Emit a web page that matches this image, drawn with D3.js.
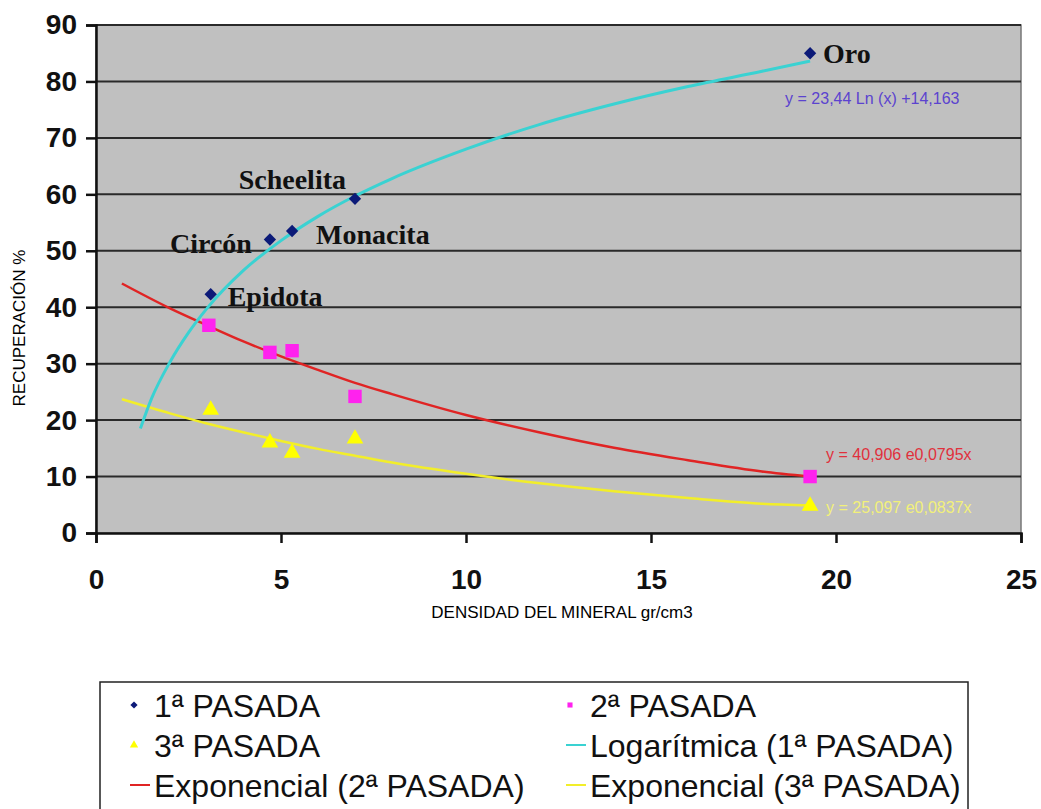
<!DOCTYPE html>
<html>
<head>
<meta charset="utf-8">
<script src="https://cdn.jsdelivr.net/npm/d3@7"></script>
<style>
  body { margin: 0; background: #fff; }
  svg { display: block; }
</style>
</head>
<body>
<svg width="1041" height="809"></svg>
<script>
// datos
const pasada1 = [[3.1, 42.3], [4.7, 52.0], [5.3, 53.5], [7.0, 59.2], [19.3, 85.0]];
const pasada2 = [[3.05, 36.8], [4.7, 32.0], [5.3, 32.3], [7.0, 24.2], [19.3, 10.0]];
const pasada3 = [[3.1, 21.8], [4.7, 16.0], [5.3, 14.2], [7.0, 16.7], [19.3, 4.8]];
const minerales = ["Epidota", "Circón", "Monacita", "Scheelita", "Oro"];

// lineas de tendencia
const tendLog1 = [[1.2, 18.5], [1.5, 23.8], [2, 30.3], [2.5, 35.5], [3, 39.8], [4, 46.6], [5, 51.8],
                  [6, 56.1], [7, 59.7], [8, 62.8], [10, 68.0], [12, 72.4], [14, 76.0], [16, 79.1],
                  [18, 81.8], [19.3, 83.6]];
const tendExp2 = [[0.7, 44.2], [2, 39.8], [3, 36.8], [4, 33.9], [5, 31.3], [6, 28.9], [7, 26.6],
                  [8, 24.6], [10, 20.9], [12, 17.8], [14, 15.1], [16, 12.9], [18, 10.9], [19.3, 10.0]];
const tendExp3 = [[0.7, 23.7], [2, 21.2], [3, 19.4], [4, 17.8], [5, 16.3], [6, 14.9], [7, 13.7],
                  [8, 12.5], [10, 10.5], [12, 8.8], [14, 7.4], [16, 6.2], [18, 5.2], [19.3, 4.9]];

const ticksX = [0, 5, 10, 15, 20, 25];
const ticksY = [0, 10, 20, 30, 40, 50, 60, 70, 80, 90];

const ecuaciones = [
  {texto: "y = 23,44 Ln (x) +14,163", color: "#5b43cf", dx: -25, dy: 51},
  {texto: "y = 40,906 e0,0795x", color: "#e0303c", dx: 16, dy: -17},
  {texto: "y = 25,097 e0,0837x", color: "#f2f07a", dx: 16, dy: 7}
];

const svg = d3.select("svg");
const area = {left: 96, right: 1021, top: 25, bottom: 533};

const scX = d3.scaleLinear().domain([0, 25]).range([area.left, area.right]);
const scY = d3.scaleLinear().domain([0, 90]).range([area.bottom, area.top]);

// fondo gris
svg.append("rect")
   .attr("x", area.left).attr("y", area.top)
   .attr("width", area.right - area.left).attr("height", area.bottom - area.top)
   .attr("fill", "#c0c0c0")
   .attr("stroke", "#777").attr("stroke-width", 1.5);

// lineas de cuadricula
svg.append("g").selectAll("line")
   .data(ticksY.filter(d => d > 0))
   .enter().append("line")
   .attr("x1", area.left).attr("x2", area.right)
   .attr("y1", d => scY(d)).attr("y2", d => scY(d))
   .attr("stroke", "#2a2a2a").attr("stroke-width", 2);

// ejes
const axisY = svg.append("g")
   .attr("transform", `translate(${area.left}, 0)`)
   .call(d3.axisLeft(scY).tickValues(ticksY).tickSize(10).tickPadding(9));
const axisX = svg.append("g")
   .attr("transform", `translate(0, ${area.bottom})`)
   .call(d3.axisBottom(scX).tickValues(ticksX).tickSize(10).tickPadding(26));

[axisY, axisX].forEach(g => {
  g.select(".domain").attr("stroke", "#111").attr("stroke-width", 2.5);
  g.selectAll(".tick line").attr("stroke", "#111").attr("stroke-width", 2.5);
  g.selectAll(".tick text")
   .style("font-family", "Liberation Sans, Arial, sans-serif")
   .style("font-weight", "bold")
   .style("font-size", "28px")
   .attr("fill", "#111");
});

// titulos de ejes
svg.append("text")
   .attr("transform", "translate(25, 328) rotate(-90)")
   .attr("text-anchor", "middle")
   .style("font-family", "Liberation Sans, Arial, sans-serif")
   .style("font-size", "17px")
   .text("RECUPERACIÓN %");
svg.append("text")
   .attr("x", 562).attr("y", 618)
   .attr("text-anchor", "middle")
   .style("font-family", "Liberation Sans, Arial, sans-serif")
   .style("font-size", "17px")
   .text("DENSIDAD DEL MINERAL gr/cm3");

// curvas de tendencia
const linea = d3.line().x(d => scX(d[0])).y(d => scY(d[1])).curve(d3.curveMonotoneX);
svg.append("path").datum(tendExp3).attr("d", linea)
   .attr("fill", "none").attr("stroke", "#f2ee2a").attr("stroke-width", 2.5);
svg.append("path").datum(tendExp2).attr("d", linea)
   .attr("fill", "none").attr("stroke", "#e02424").attr("stroke-width", 2.5);
svg.append("path").datum(tendLog1).attr("d", linea)
   .attr("fill", "none").attr("stroke", "#3ad2d2").attr("stroke-width", 3);

// puntos
function puntos(data, simbolo, tam, color, rot = 0) {
  svg.append("g").selectAll("path")
     .data(data).enter().append("path")
     .attr("d", d3.symbol().type(simbolo).size(tam))
     .attr("transform", d => `translate(${scX(d[0])}, ${scY(d[1])}) rotate(${rot})`)
     .attr("fill", color);
}
puntos(pasada2, d3.symbolSquare, 180, "#ff22ee");
puntos(pasada3, d3.symbolTriangle, 120, "#ffff00");
puntos(pasada1, d3.symbolSquare, 76, "#0c1a78", 45);

// etiquetas de minerales
const posEtiq = [[17, 12], [-18, 14], [24, 13], [-9, -10], [13, 10]];
const anclas = ["start", "end", "start", "end", "start"];
svg.append("g").selectAll("text")
   .data(pasada1).enter().append("text")
   .attr("x", (d, i) => scX(d[0]) + posEtiq[i][0])
   .attr("y", (d, i) => scY(d[1]) + posEtiq[i][1])
   .attr("text-anchor", (d, i) => anclas[i])
   .style("font-family", "Liberation Serif, Times New Roman, serif")
   .style("font-weight", "bold")
   .style("font-size", "28px")
   .attr("fill", "#111")
   .text((d, i) => minerales[i]);

// ecuaciones
const ultimos = [pasada1[4], pasada2[4], pasada3[4]];
svg.append("g").selectAll("text")
   .data(ecuaciones).enter().append("text")
   .attr("x", (d, i) => scX(ultimos[i][0]) + d.dx)
   .attr("y", (d, i) => scY(ultimos[i][1]) + d.dy)
   .style("font-family", "Liberation Sans, Arial, sans-serif")
   .style("font-size", "16px")
   .attr("fill", d => d.color)
   .text(d => d.texto);

// leyenda
const leyenda = [
  {nombre: "1ª PASADA", tipo: "diamante", color: "#0c1a78"},
  {nombre: "2ª PASADA", tipo: "cuadrado", color: "#ff22ee"},
  {nombre: "3ª PASADA", tipo: "triangulo", color: "#ffff00"},
  {nombre: "Logarítmica (1ª PASADA)", tipo: "linea", color: "#3ad2d2"},
  {nombre: "Exponencial (2ª PASADA)", tipo: "linea", color: "#e02424"},
  {nombre: "Exponencial (3ª PASADA)", tipo: "linea", color: "#f2ee2a"}
];
const gLeg = svg.append("g");
gLeg.append("rect")
    .attr("x", 100).attr("y", 682).attr("width", 868).attr("height", 140)
    .attr("fill", "#fff").attr("stroke", "#222").attr("stroke-width", 1.5);
const items = gLeg.selectAll("g.item").data(leyenda).enter().append("g")
    .attr("transform", (d, i) => `translate(${i % 2 === 0 ? 134 : 570}, ${705 + Math.floor(i / 2) * 40})`);
items.each(function(d) {
  const g = d3.select(this);
  if (d.tipo === "linea") {
    g.append("line").attr("x1", -4).attr("x2", 16).attr("y1", 0).attr("y2", 0)
     .attr("stroke", d.color).attr("stroke-width", 2);
  } else {
    const tipo = d.tipo === "triangulo" ? d3.symbolTriangle : d3.symbolSquare;
    g.append("path").attr("d", d3.symbol().type(tipo).size(d.tipo === "triangulo" ? 30 : 26))
     .attr("transform", d.tipo === "diamante" ? "rotate(45)" : null).attr("fill", d.color);
  }
});
items.append("text")
    .attr("x", 20).attr("y", 12)
    .style("font-family", "Liberation Sans, Arial, sans-serif")
    .style("font-size", "32px")
    .attr("fill", "#111")
    .text(d => d.nombre);
</script>
</body>
</html>
